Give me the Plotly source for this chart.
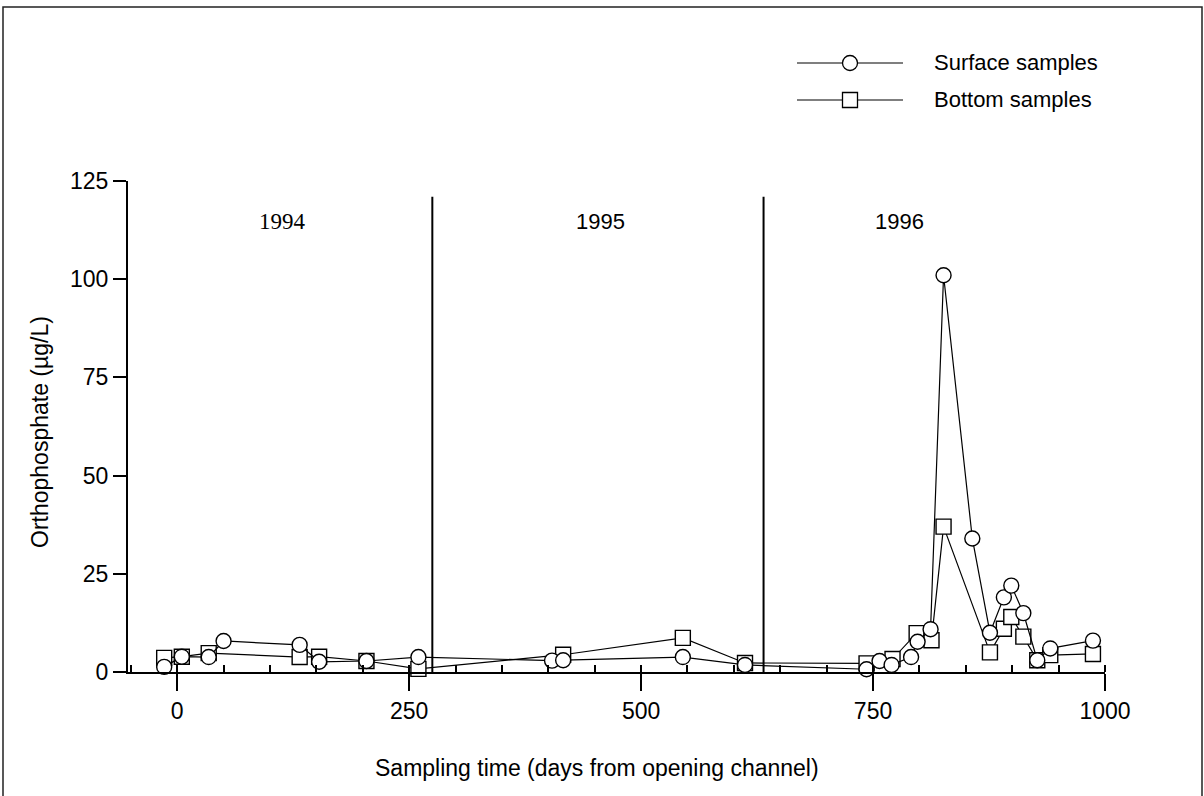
import plotly.graph_objects as go

# Orthophosphate concentrations after the channel opened
surface_days = [-14, 5, 34, 50, 132, 153, 204, 260, 404, 416, 545, 612,
                743, 757, 770, 791, 798, 812, 826, 857, 876, 891, 899, 912,
                927, 941, 987]
surface_vals = [1.3, 3.9, 3.8, 7.9, 6.9, 2.6, 2.8, 3.8, 2.9, 3.0, 3.8, 1.8,
                0.7, 2.8, 1.8, 3.8, 7.7, 10.9, 101, 34, 10, 19, 22, 15,
                3, 6, 8]

bottom_days = [-14, 5, 34, 132, 153, 204, 260, 416, 545, 612, 743, 771,
               797, 813, 826, 876, 891, 899, 912, 927, 941, 987]
bottom_vals = [3.6, 3.9, 4.8, 3.8, 3.9, 2.8, 0.8, 4.4, 8.7, 2.3, 2.2, 3.3,
               9.9, 8.1, 37, 5, 11, 14, 9, 3, 4.3, 4.6]

# Calendar year boundaries (days) and year labels
year_bounds = [275, 632]
year_names = ["1994", "1995", "1996"]
year_label_days = [113, 456, 778]
year_label_fonts = ["Liberation Serif", "Liberation Sans Narrow, Liberation Sans",
                    "Liberation Sans Narrow, Liberation Sans"]
year_label_sizes = [23, 22, 22]

x_ticks = [0, 250, 500, 750, 1000]
y_ticks = [0, 25, 50, 75, 100, 125]

W, H = 1204, 796
L, R, T, B = 128, 99, 181, 124
PW, PH = W - L - R, H - T - B


def px_x(p):
    return (p - L) / PW


def px_y(p):
    return (H - B - p) / PH


FONT = "Liberation Sans, Arial, sans-serif"
marker_line = dict(color="black", width=1.4)

fig = go.Figure()
fig.add_trace(go.Scatter(
    x=bottom_days, y=bottom_vals, mode="lines+markers", name="Bottom samples",
    line=dict(color="black", width=1.2),
    marker=dict(symbol="square", size=15, color="white", line=marker_line),
    cliponaxis=False,
))
fig.add_trace(go.Scatter(
    x=surface_days, y=surface_vals, mode="lines+markers", name="Surface samples",
    line=dict(color="black", width=1.2),
    marker=dict(symbol="circle", size=15, color="white", line=marker_line),
    cliponaxis=False,
))

shapes = []
for d in year_bounds:
    shapes.append(dict(type="line", xref="x", yref="y", x0=d, x1=d, y0=0, y1=121,
                       line=dict(color="black", width=2)))

# outer frame
shapes.append(dict(type="rect", xref="paper", yref="paper",
                   x0=px_x(3), x1=px_x(1202), y0=px_y(805), y1=px_y(7),
                   line=dict(color="#222", width=1.5), fillcolor="rgba(0,0,0,0)"))

# legend samples
leg_y = [63, 100]
for i, yy in enumerate(leg_y):
    shapes.append(dict(type="line", xref="paper", yref="paper",
                       x0=px_x(797), x1=px_x(903), y0=px_y(yy), y1=px_y(yy),
                       line=dict(color="black", width=1.2)))
    shapes.append(dict(type="circle" if i == 0 else "rect",
                       xref="paper", yref="paper",
                       xsizemode="pixel", ysizemode="pixel",
                       xanchor=px_x(850), yanchor=px_y(yy),
                       x0=-7.5, x1=7.5, y0=-7.5, y1=7.5,
                       fillcolor="white", line=dict(color="black", width=1.3)))

annotations = []
for name, d, f, s in zip(year_names, year_label_days, year_label_fonts, year_label_sizes):
    annotations.append(dict(x=d, y=114.8, xref="x", yref="y", text=name,
                            xanchor="center", yanchor="middle",
                            showarrow=False, font=dict(family=f, size=s, color="black")))
for name, yy in zip(["Surface samples", "Bottom samples"], leg_y):
    annotations.append(dict(x=px_x(932), y=px_y(yy), xref="paper", yref="paper",
                            xanchor="left", yanchor="middle", text=name, showarrow=False,
                            font=dict(family=FONT, size=22, color="black")))
annotations.append(dict(x=px_x(597), y=px_y(768), xref="paper", yref="paper",
                        xanchor="center", yanchor="middle",
                        text="Sampling time (days from opening channel)", showarrow=False,
                        font=dict(family=FONT, size=23, color="black")))
annotations.append(dict(x=px_x(40), y=px_y(432), xref="paper", yref="paper",
                        xanchor="center", yanchor="middle",
                        text="Orthophosphate (µg/L)", textangle=-90, showarrow=False,
                        font=dict(family=FONT, size=23, color="black")))

fig.update_layout(
    width=W, height=H,
    margin=dict(l=L, r=R, t=T, b=B),
    plot_bgcolor="white", paper_bgcolor="white",
    showlegend=False,
    shapes=shapes, annotations=annotations,
    font=dict(family=FONT, color="black"),
)
fig.update_xaxes(
    range=[-53, 1000], tickmode="array", tickvals=x_ticks,
    ticks="outside", ticklen=17, tickwidth=2, tickcolor="black",
    showline=True, linecolor="black", linewidth=2,
    showgrid=False, zeroline=False,
    tickfont=dict(family=FONT, size=23),
    minor=dict(ticks="inside", tickmode="linear", tick0=0, dtick=50, ticklen=7,
               tickwidth=1.5, tickcolor="black", showgrid=False),
)
fig.update_yaxes(
    range=[0, 125], tickmode="array", tickvals=y_ticks,
    ticks="outside", ticklen=13, tickwidth=2, tickcolor="black",
    showline=True, linecolor="black", linewidth=2,
    showgrid=False, zeroline=False,
    tickfont=dict(family=FONT, size=23),
)

fig.write_html("out.html")
